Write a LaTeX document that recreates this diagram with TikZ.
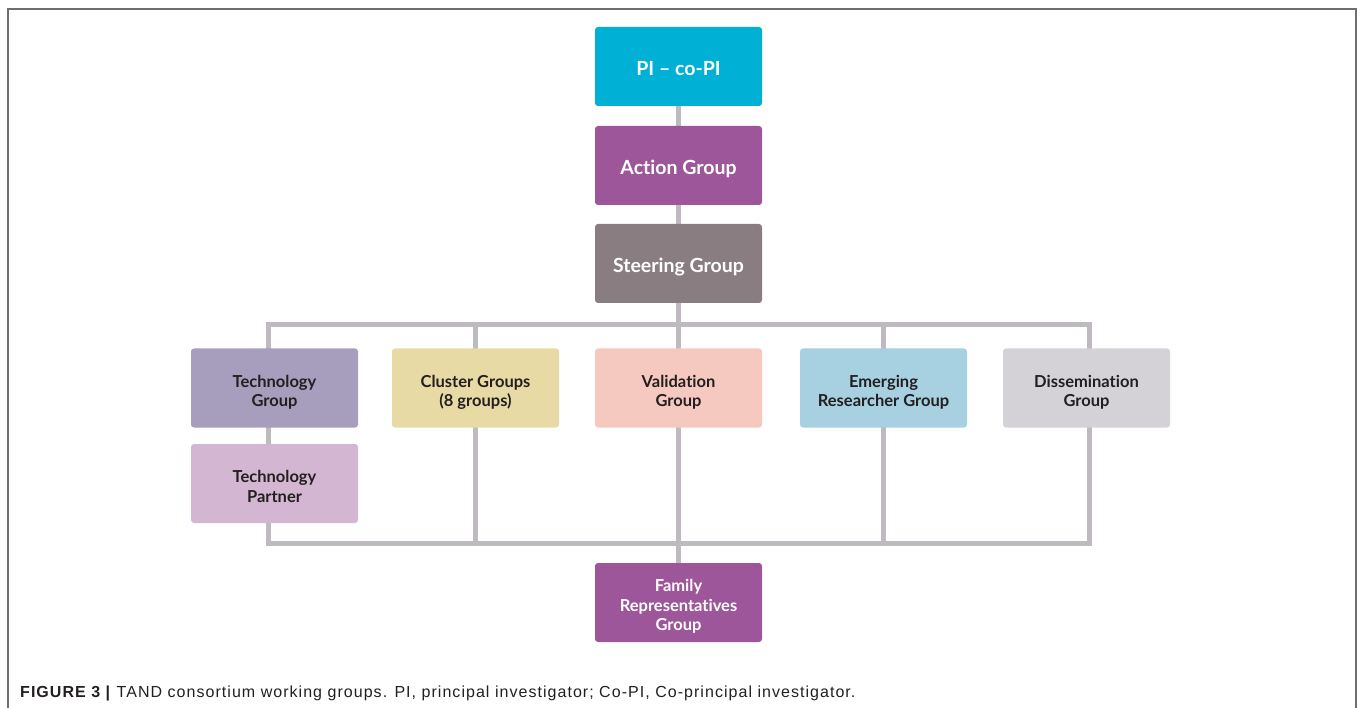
\documentclass[tikz,border=0pt]{standalone}
\usepackage{fontspec}
\setmainfont{Lato}[Ligatures={NoCommon,TeX}]
\newfontfamily\capfont[LetterSpace=6.5]{Liberation Sans}
\usetikzlibrary{backgrounds}
\definecolor{cPI}{HTML}{00B1D5}
\definecolor{cAct}{HTML}{9D5699}
\definecolor{cSteer}{HTML}{8A7D82}
\definecolor{cTech}{HTML}{A79DBD}
\definecolor{cClus}{HTML}{E8DAA4}
\definecolor{cVal}{HTML}{F6C9C0}
\definecolor{cEmer}{HTML}{A7D0E1}
\definecolor{cDiss}{HTML}{D4D2D7}
\definecolor{cPart}{HTML}{D3B7D2}
\definecolor{cLine}{HTML}{BFB9C0}
\definecolor{cText}{HTML}{231F20}
\definecolor{cFrame}{HTML}{6E6E6E}
\newcommand\bt[1]{\raisebox{-5pt}[\height][\depth]{\begin{tabular}{@{}c@{}}#1\end{tabular}}}
\tikzset{
  gbox/.style={rounded corners=3pt, minimum width=167pt, minimum height=79pt,
    inner sep=0pt, align=center, font=\bfseries\fontsize{16.5}{19.5}\selectfont, text=cText},
  bigbox/.style={gbox, text=white, font=\bfseries\fontsize{19.5}{22}\selectfont},
  conn/.style={draw=cLine, line width=5pt, line join=miter},
}
\begin{document}
\begin{tikzpicture}[x=1pt,y=-1pt]
\useasboundingbox (0,0) rectangle (1360,708);
\draw[cFrame, line width=2pt] (8,708) -- (8,9) -- (1356,9) -- (1356,708);

\node[bigbox, fill=cPI] (pi) at (678.5,66.5) {\bt{PI -- co-PI}};
\node[bigbox, fill=cAct] (ag) at (678.5,165.5) {\bt{Action Group}};
\node[bigbox, fill=cSteer] (st) at (678.5,263.5) {\bt{Steering Group}};

\node[gbox, fill=cTech] (tg) at (274.5,388) {\bt{Technology\\Group}};
\node[gbox, fill=cClus] (cg) at (475.5,388) {\bt{Cluster Groups\\(8 groups)}};
\node[gbox, fill=cVal] (vg) at (678.5,388) {\bt{Validation\\Group}};
\node[gbox, fill=cEmer] (eg) at (883.5,388) {\bt{Emerging\\Researcher Group}};
\node[gbox, fill=cDiss] (dg) at (1086.5,388) {\bt{Dissemination\\Group}};
\node[gbox, fill=cPart] (tp) at (274.5,483.5) {\bt{Technology\\Partner}};
\node[gbox, text=white, fill=cAct] (fr) at (678.5,602.5) {\bt{Family\\Representatives\\Group}};

\coordinate (tl) at (268,325);
\coordinate (tr) at (1089,325);
\coordinate (bl) at (268,543);
\coordinate (br) at (1089,543);

\begin{scope}[on background layer]
\draw[conn] (tl) rectangle (br);
\draw[conn] (pi.south) -- (ag.north);
\draw[conn] (ag.south) -- (st.north);
\draw[conn] (st.south) -- (st.south |- tl);
\draw[conn] (cg.north |- tl) -- (cg.south |- bl);
\draw[conn] (vg.north |- tl) -- (fr.north);
\draw[conn] (eg.north |- tl) -- (eg.south |- bl);
\end{scope}

\node[anchor=base west, inner sep=0pt, text=cText, font=\capfont\fontsize{16}{18}\selectfont] (cap) at (20,697)
  {\textbf{FIGURE 3 |} TAND consortium working groups. PI, principal investigator; Co-PI, Co-principal investigator.};
\end{tikzpicture}
\end{document}
